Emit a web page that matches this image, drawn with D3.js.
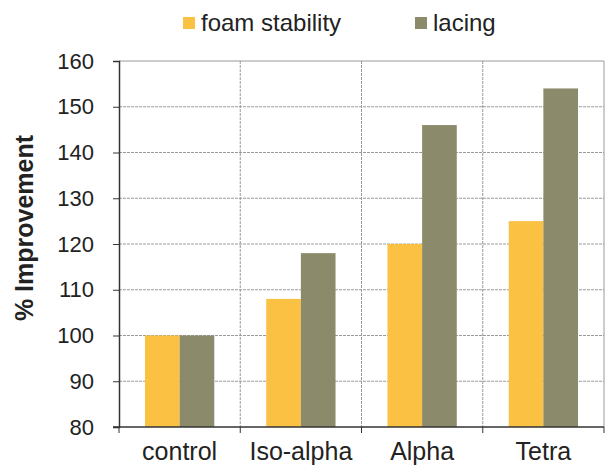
<!DOCTYPE html>
<html>
  <head>
    <meta charset="utf-8">
    <script src="https://d3js.org/d3.v7.min.js"></script>
    <style>
      body { margin: 0; background: #fff; }
      text { font-family: "Liberation Sans", Arial, sans-serif; fill: #222; }
    </style>
  </head>
  <body>
    <script>
      // chart data
      const categories = ["control", "Iso-alpha", "Alpha", "Tetra"];
      const seriesNames = ["foam stability", "lacing"];
      const foamStability = [100, 108, 120, 125];
      const lacing = [100, 118, 146, 154];
      const yTicks = [80, 90, 100, 110, 120, 130, 140, 150, 160];
      const colors = ["#fac142", "#8b8a6b"];

      const width = 612, height = 468;
      const margin = {left: 119, right: 8, top: 61, bottom: 41};

      const svg = d3.select("body").append("svg")
          .attr("width", width)
          .attr("height", height);

      const x = d3.scaleBand()
          .domain(categories)
          .range([margin.left, width - margin.right]);
      const x1 = d3.scaleBand()
          .domain(seriesNames)
          .range([0, x.bandwidth()])
          .paddingOuter(0.75)
          .paddingInner(0);
      const y = d3.scaleLinear()
          .domain([80, 160])
          .range([height - margin.bottom, margin.top]);

      // horizontal dashed grid
      svg.append("g")
          .selectAll("line")
          .data(yTicks.slice(1))
          .join("line")
          .attr("x1", margin.left)
          .attr("x2", width - margin.right)
          .attr("y1", d => y(d))
          .attr("y2", d => y(d))
          .style("stroke", "#9a9a9a")
          .style("stroke-width", 1)
          .style("stroke-dasharray", d => d === 160 ? null : "3,1");

      // vertical separators between categories
      svg.append("g")
          .selectAll("line")
          .data(categories.slice(1))
          .join("line")
          .attr("x1", d => x(d))
          .attr("x2", d => x(d))
          .attr("y1", margin.top)
          .attr("y2", height - margin.bottom)
          .style("stroke", "#9a9a9a")
          .style("stroke-dasharray", "3,1");
      svg.append("line")
          .attr("x1", width - margin.right)
          .attr("x2", width - margin.right)
          .attr("y1", margin.top)
          .attr("y2", height - margin.bottom)
          .style("stroke", "#9a9a9a");

      // bars
      const values = [foamStability, lacing];
      const groups = svg.append("g")
          .selectAll("g")
          .data(categories)
          .join("g")
          .attr("transform", d => `translate(${x(d)},0)`);
      groups.selectAll("rect")
          .data((d, i) => seriesNames.map((s, j) => ({s, v: values[j][i], c: colors[j]})))
          .join("rect")
          .attr("x", d => x1(d.s))
          .attr("width", x1.bandwidth())
          .attr("y", d => y(d.v))
          .attr("height", d => y(80) - y(d.v))
          .style("fill", d => d.c);

      // y axis
      const yAxis = svg.append("g")
          .attr("transform", `translate(${margin.left},0)`)
          .call(d3.axisLeft(y).tickValues(yTicks).tickSize(6).tickPadding(19));
      yAxis.select(".domain").attr("stroke", "#333").attr("stroke-width", 1.5);
      yAxis.selectAll(".tick line").attr("stroke", "#333");
      yAxis.selectAll("text")
          .style("font-size", "22px")
          .style("font-family", "'Liberation Sans', Arial, sans-serif")
          .attr("fill", "#222");

      // x axis
      const base = height - margin.bottom;
      svg.append("line")
          .attr("x1", margin.left - 6)
          .attr("x2", width - margin.right)
          .attr("y1", base)
          .attr("y2", base)
          .style("stroke", "#333")
          .style("stroke-width", 1.5);
      svg.append("g")
          .selectAll("line")
          .data(categories.concat(["end"]))
          .join("line")
          .attr("x1", d => d === "end" ? width - margin.right : x(d))
          .attr("x2", d => d === "end" ? width - margin.right : x(d))
          .attr("y1", base)
          .attr("y2", base + 6)
          .style("stroke", "#333");
      svg.append("g")
          .selectAll("text")
          .data(categories)
          .join("text")
          .attr("x", d => x(d) + x.bandwidth() / 2)
          .attr("y", base + 33)
          .attr("text-anchor", "middle")
          .style("font-size", "25px")
          .text(d => d);

      // y label
      svg.append("text")
          .attr("transform", `translate(33,228) rotate(-90)`)
          .attr("text-anchor", "middle")
          .style("font-size", "25px")
          .style("font-weight", "bold")
          .text("% Improvement");

      // legend
      const legendX = [183, 415];
      const legend = svg.append("g")
          .selectAll("g")
          .data(seriesNames)
          .join("g")
          .attr("transform", (d, i) => `translate(${legendX[i]},0)`);
      legend.append("rect")
          .attr("x", 0)
          .attr("y", 17)
          .attr("width", 12)
          .attr("height", 12)
          .style("fill", (d, i) => colors[i]);
      legend.append("text")
          .attr("x", 18)
          .attr("y", 31)
          .style("font-size", "24px")
          .text(d => d);
    </script>
  </body>
</html>
